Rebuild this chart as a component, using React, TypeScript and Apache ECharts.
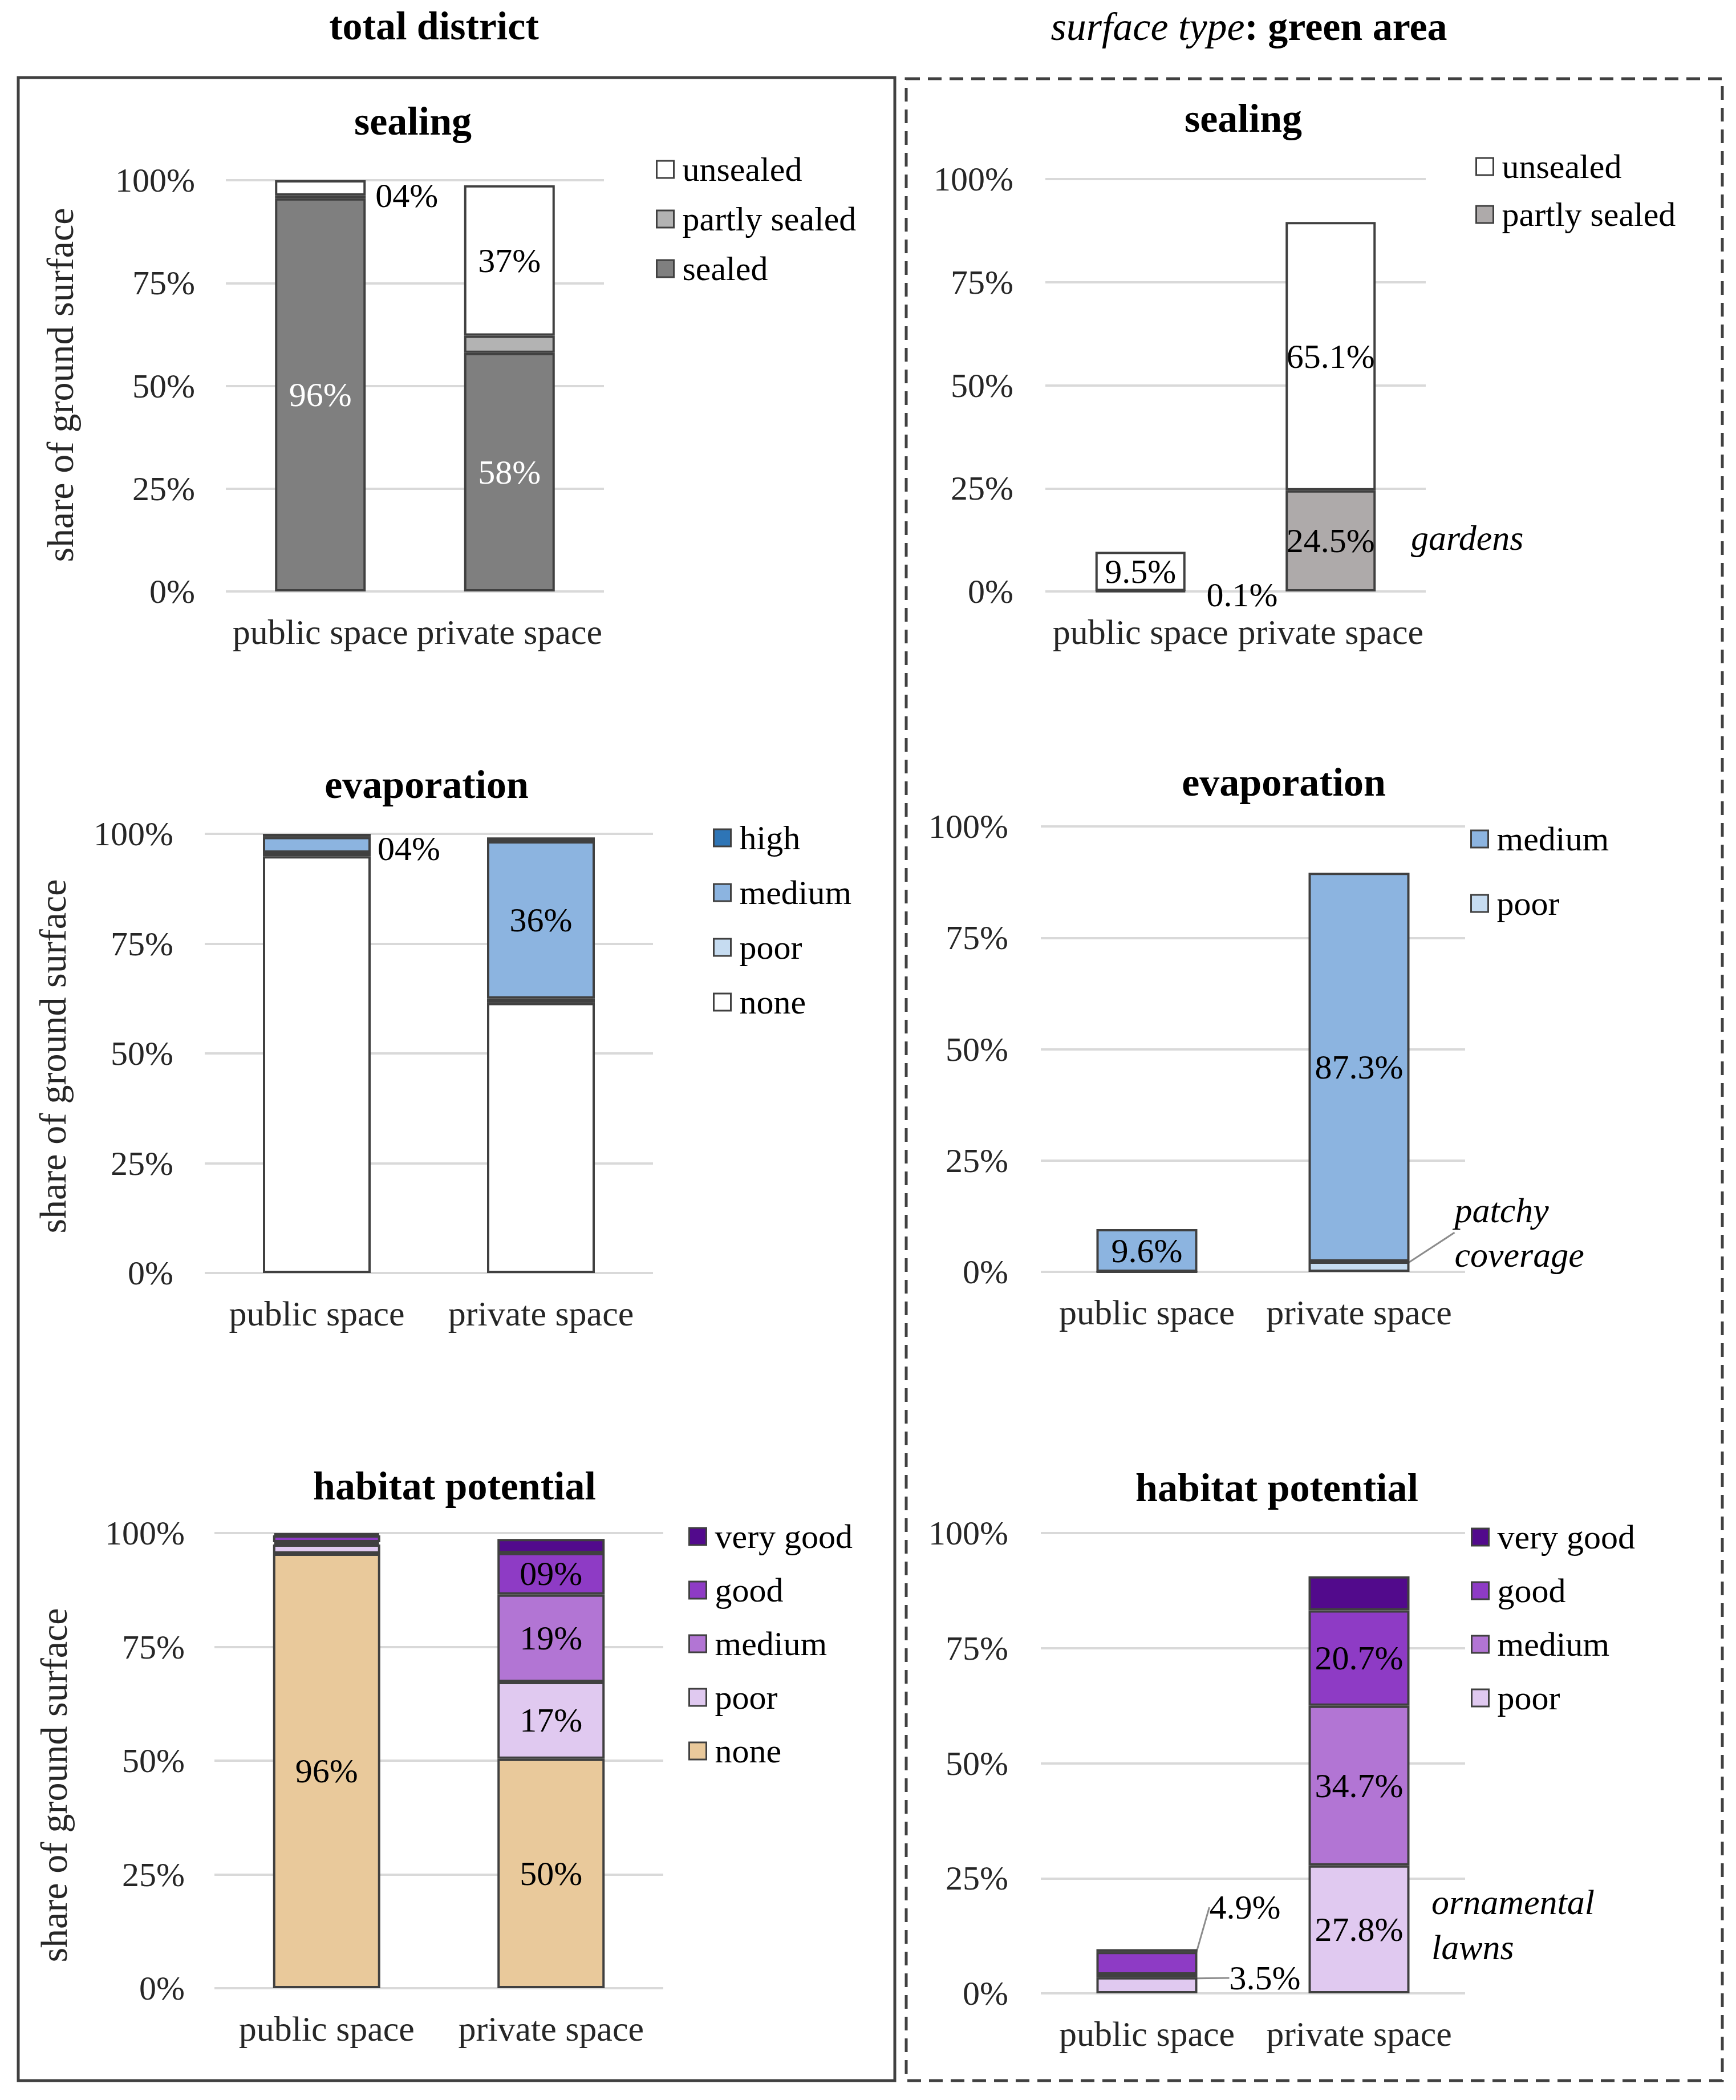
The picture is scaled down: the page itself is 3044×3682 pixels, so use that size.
import React, { useEffect, useRef } from 'react';
import * as echarts from 'echarts';

// ---------- data ----------
const categories = ['public space', 'private space'];
const yTickStep = 25;

// total district – sealing
const sealTotalSealed = [95.6, 58.0];
const sealTotalPartly = [0.7, 4.2];
const sealTotalUnsealed = [3.7, 36.6];

// green area – sealing
const sealGreenPartly = [0.1, 24.5];
const sealGreenUnsealed = [9.5, 65.1];

// total district – evaporation
const evapTotalNone = [94.9, 61.5];
const evapTotalPoor = [0.8, 1.0];
const evapTotalMedium = [3.6, 35.8];
const evapTotalHigh = [0.7, 0.9];

// green area – evaporation
const evapGreenPoor = [0, 2.3];
const evapGreenMedium = [9.6, 87.3];

// total district – habitat potential
const habTotalNone = [95.5, 50.4];
const habTotalPoor = [2.0, 16.9];
const habTotalMedium = [0.5, 19.2];
const habTotalGood = [1.5, 9.1];
const habTotalVeryGood = [0.5, 3.1];

// green area – habitat potential
const habGreenPoor = [3.5, 27.8];
const habGreenMedium = [0.6, 34.7];
const habGreenGood = [4.9, 20.7];
const habGreenVeryGood = [0.6, 7.4];

// ---------- style ----------
const FONT = "'Liberation Serif', 'Times New Roman', serif";
const BORDER = '#404040';
const TICK = '#262626';

const grids = [
  { left: 396, top: 316, width: 663, height: 721 },
  { left: 1833, top: 314, width: 667, height: 723 },
  { left: 359, top: 1462, width: 786, height: 770 },
  { left: 1825, top: 1449, width: 744, height: 781 },
  { left: 376, top: 2688, width: 787, height: 798 },
  { left: 1825, top: 2688, width: 744, height: 807 },
];
const barWidths = [159, 158, 189, 177, 188, 177];
const yLabelMargins = [54, 56, 55, 57, 52, 57];

const fmtInt = (v: number) => String(Math.round(v)).padStart(2, '0') + '%';
const fmtDec = (v: number) => v.toFixed(1) + '%';

type LabelSpec = {
  position: string;
  color?: string;
  distance?: number;
  offset?: [number, number];
  text?: string;
  line?: boolean;
} | null;

function bar(
  panel: number,
  stack: string,
  name: string,
  values: number[],
  color: string,
  fmt: (v: number) => string,
  labels: LabelSpec[] = []
) {
  const moves: Record<number, number> = {};
  const s: any = {
    type: 'bar',
    name: stack + ':' + name,
    stack,
    xAxisIndex: panel,
    yAxisIndex: panel,
    barWidth: barWidths[panel],
    itemStyle: { color, borderColor: BORDER, borderWidth: 4 },
    label: {
      show: false,
      fontFamily: FONT,
      fontSize: 60,
      color: '#000',
      textBorderWidth: 0,
      formatter: (p: any) => fmt(p.value),
    },
    data: values.map((v, i) => {
      const spec = labels[i];
      if (!spec) return { value: v };
      const item: any = {
        value: v,
        label: {
          show: true,
          position: spec.position,
          distance: spec.distance ?? 5,
        },
      };
      if (spec.color) item.label.color = spec.color;
      if (spec.text) {
        item.label.formatter = spec.text;
        item.label.fontStyle = 'italic';
        item.label.fontSize = 62;
        item.label.lineHeight = 78;
        item.label.align = 'left';
      }
      if (spec.line) {
        item.labelLine = { show: true, lineStyle: { color: '#8c8c8c', width: 3 } };
        if (spec.offset) moves[i] = spec.offset[1];
      } else if (spec.offset) {
        item.label.offset = spec.offset;
      }
      return item;
    }),
  };
  if (Object.keys(moves).length) {
    s.labelLayout = (p: any) => (moves[p.dataIndex] != null ? { dy: moves[p.dataIndex] } : {});
  }
  return s;
}

const series = [
  // A: total sealing
  bar(0, 'A', 'sealed', sealTotalSealed, '#7f7f7f', fmtInt, [
    { position: 'inside', color: '#fff' },
    { position: 'inside', color: '#fff' },
  ]),
  bar(0, 'A', 'partly sealed', sealTotalPartly, '#b3b3b3', fmtInt),
  bar(0, 'A', 'unsealed', sealTotalUnsealed, '#ffffff', fmtInt, [
    { position: 'right', distance: 17, offset: [0, 14] },
    { position: 'inside' },
  ]),
  // B: green sealing
  bar(1, 'B', 'partly sealed', sealGreenPartly, '#aeaaaa', fmtDec, [
    { position: 'right', distance: 35, offset: [0, 6] },
    { position: 'inside' },
  ]),
  bar(1, 'B', 'unsealed', sealGreenUnsealed, '#ffffff', fmtDec, [
    { position: 'inside' },
    { position: 'inside' },
  ]),
  // C: total evaporation
  bar(2, 'C', 'none', evapTotalNone, '#ffffff', fmtInt),
  bar(2, 'C', 'poor', evapTotalPoor, '#c6dcf1', fmtInt),
  bar(2, 'C', 'medium', evapTotalMedium, '#8cb4e0', fmtInt, [
    { position: 'right', distance: 12, offset: [0, 7] },
    { position: 'inside' },
  ]),
  bar(2, 'C', 'high', evapTotalHigh, '#2e75b6', fmtInt),
  // D: green evaporation
  bar(3, 'D', 'poor', evapGreenPoor, '#c6dcf1', fmtDec, [
    null,
    { position: 'right', distance: 79, offset: [0, -60], text: 'patchy\ncoverage', line: true },
  ]),
  bar(3, 'D', 'medium', evapGreenMedium, '#8cb4e0', fmtDec, [
    { position: 'inside' },
    { position: 'inside' },
  ]),
  // E: total habitat
  bar(4, 'E', 'none', habTotalNone, '#e9c99b', fmtInt, [
    { position: 'inside' },
    { position: 'inside' },
  ]),
  bar(4, 'E', 'poor', habTotalPoor, '#e0c9f0', fmtInt, [null, { position: 'inside' }]),
  bar(4, 'E', 'medium', habTotalMedium, '#b275d4', fmtInt, [null, { position: 'inside' }]),
  bar(4, 'E', 'good', habTotalGood, '#8e3bc5', fmtInt, [null, { position: 'inside' }]),
  bar(4, 'E', 'very good', habTotalVeryGood, '#520a8c', fmtInt),
  // F: green habitat
  bar(5, 'F', 'poor', habGreenPoor, '#e0c9f0', fmtDec, [
    { position: 'right', distance: 56, offset: [0, -13], line: true },
    { position: 'inside' },
  ]),
  bar(5, 'F', 'medium', habGreenMedium, '#b275d4', fmtDec, [null, { position: 'inside' }]),
  bar(5, 'F', 'good', habGreenGood, '#8e3bc5', fmtDec, [
    { position: 'right', distance: 21, offset: [0, -98], line: true },
    { position: 'inside' },
  ]),
  bar(5, 'F', 'very good', habGreenVeryGood, '#520a8c', fmtDec),
];

const legendDefs = [
  { data: ['A:unsealed', 'A:partly sealed', 'A:sealed'], left: 1150, top: 267, itemGap: 27 },
  { data: ['B:unsealed', 'B:partly sealed'], left: 2587, top: 262, itemGap: 24 },
  { data: ['C:high', 'C:medium', 'C:poor', 'C:none'], left: 1250, top: 1439, itemGap: 36 },
  { data: ['D:medium', 'D:poor'], left: 2578, top: 1441, itemGap: 53 },
  { data: ['E:very good', 'E:good', 'E:medium', 'E:poor', 'E:none'], left: 1207, top: 2664, itemGap: 34 },
  { data: ['F:very good', 'F:good', 'F:medium', 'F:poor'], left: 2579, top: 2665, itemGap: 34 },
];

const titleDefs = [
  { text: 'sealing', left: 724, top: 212 },
  { text: 'sealing', left: 2180, top: 207 },
  { text: 'evaporation', left: 748, top: 1375 },
  { text: 'evaporation', left: 2251, top: 1371 },
  { text: 'habitat potential', left: 797, top: 2605 },
  { text: 'habitat potential', left: 2239, top: 2608 },
];

const yNamePos = [
  { x: 105, y: 675 },
  { x: 92, y: 1852 },
  { x: 94, y: 3130 },
];

function buildOption() {
  return {
    animation: false,
    backgroundColor: '#ffffff',
    title: [
      {
        text: 'total district',
        left: 761,
        top: 45,
        padding: 0,
        textAlign: 'center',
        textVerticalAlign: 'middle',
        textStyle: { fontFamily: FONT, fontSize: 70, fontWeight: 'bold', color: '#000' },
      },
      {
        text: '{i|surface type}{b|: green area}',
        left: 2190,
        top: 46,
        padding: 0,
        textAlign: 'center',
        textVerticalAlign: 'middle',
        textStyle: {
          fontFamily: FONT,
          fontSize: 70,
          color: '#000',
          rich: {
            i: { fontFamily: FONT, fontSize: 70, fontStyle: 'italic', fontWeight: 'normal', color: '#000' },
            b: { fontFamily: FONT, fontSize: 70, fontWeight: 'bold', color: '#000' },
          },
        },
      },
      ...titleDefs.map((t) => ({
        text: t.text,
        left: t.left,
        top: t.top,
        padding: 0,
        textAlign: 'center',
        textVerticalAlign: 'middle',
        textStyle: { fontFamily: FONT, fontSize: 70, fontWeight: 'bold', color: '#000' },
      })),
    ],
    legend: legendDefs.map((l) => ({
      data: l.data,
      left: l.left,
      top: l.top,
      itemGap: l.itemGap,
      orient: 'vertical',
      padding: 0,
      icon: 'rect',
      itemWidth: 30,
      itemHeight: 30,
      selectedMode: false,
      formatter: (n: string) => n.split(':')[1],
      itemStyle: { borderColor: BORDER, borderWidth: 3 },
      textStyle: { fontFamily: FONT, fontSize: 60, color: '#000', padding: [0, 0, 0, 10] },
    })),
    grid: grids.map((g) => ({ ...g, containLabel: false })),
    xAxis: grids.map((_, i) => ({
      type: 'category',
      gridIndex: i,
      data: categories,
      axisLine: { show: false },
      axisTick: { show: false },
      axisLabel: { interval: 0, margin: 40, fontFamily: FONT, fontSize: 62, color: TICK },
    })),
    yAxis: grids.map((_, i) => ({
      type: 'value',
      gridIndex: i,
      min: 0,
      max: 100,
      interval: yTickStep,
      axisLine: { show: false },
      axisTick: { show: false },
      splitLine: { lineStyle: { color: '#d9d9d9', width: 4 } },
      axisLabel: {
        formatter: '{value}%',
        margin: yLabelMargins[i],
        fontFamily: FONT,
        fontSize: 60,
        color: TICK,
      },
    })),
    series,
    graphic: [
      {
        type: 'rect',
        shape: { x: 32, y: 136, width: 1537, height: 3512 },
        style: { fill: 'none', stroke: BORDER, lineWidth: 5 },
        silent: true,
      },
      {
        type: 'rect',
        shape: { x: 1589, y: 138, width: 1431, height: 3510 },
        style: { fill: 'none', stroke: BORDER, lineWidth: 5, lineDash: [24, 14] },
        silent: true,
      },
      ...yNamePos.map((p) => ({
        type: 'text',
        x: p.x,
        y: p.y,
        rotation: Math.PI / 2,
        silent: true,
        style: {
          text: 'share of ground surface',
          fontFamily: FONT,
          fontSize: 66,
          fill: TICK,
          align: 'center',
          verticalAlign: 'middle',
        },
      })),
      {
        type: 'text',
        x: 2474,
        y: 943,
        silent: true,
        style: {
          text: 'gardens',
          fontFamily: FONT,
          fontSize: 62,
          fontStyle: 'italic',
          fill: '#000',
          align: 'left',
          verticalAlign: 'middle',
        },
      },
      {
        type: 'text',
        x: 2510,
        y: 3374,
        silent: true,
        style: {
          text: 'ornamental\nlawns',
          fontFamily: FONT,
          fontSize: 62,
          lineHeight: 79,
          fontStyle: 'italic',
          fill: '#000',
          align: 'left',
          verticalAlign: 'middle',
        },
      },
    ],
  };
}

export default function App() {
  const ref = useRef<HTMLDivElement>(null);
  useEffect(() => {
    if (!ref.current) return;
    const chart = echarts.init(ref.current, null, { renderer: 'svg' });
    chart.setOption(buildOption() as any);
    return () => chart.dispose();
  }, []);
  return (
    <div
      ref={ref}
      style={{ width: 3044, height: 3682, position: 'absolute', left: 0, top: 0, background: '#fff' }}
    />
  );
}
